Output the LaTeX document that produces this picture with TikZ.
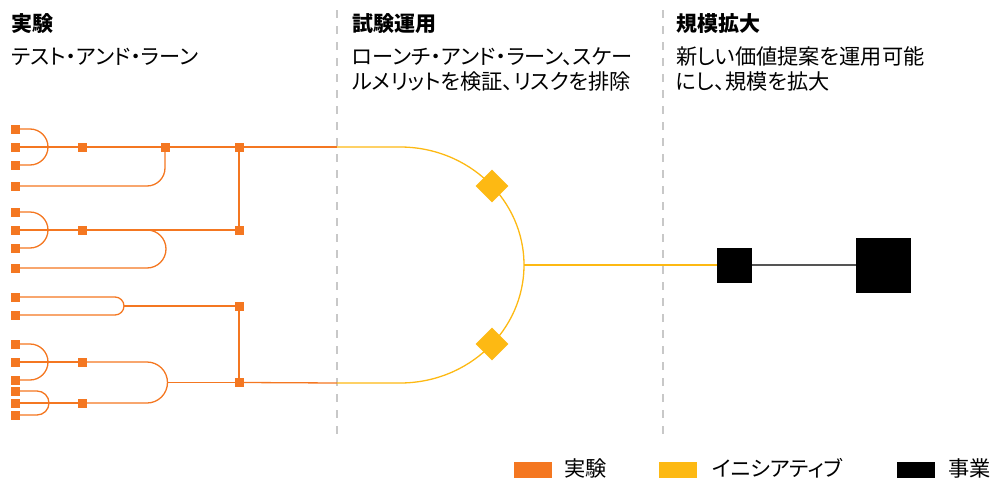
\documentclass[tikz,border=0pt]{standalone}
\usepackage{fontspec}
\usetikzlibrary{shapes.geometric}
\newfontfamily\jp[RawFeature={+palt}]{Noto Sans CJK JP}
\definecolor{cOrange}{HTML}{F47721}
\definecolor{cYellow}{HTML}{FDB913}
\definecolor{cDash}{HTML}{C8C8C8}
\definecolor{cLink}{HTML}{555555}
\tikzset{
  osq/.style={rectangle,fill=cOrange,minimum size=9pt,inner sep=0pt,outer sep=0pt},
  ydia/.style={diamond,fill=cYellow,minimum width=33pt,minimum height=33pt,inner sep=0pt},
  bsq/.style={rectangle,fill=black,inner sep=0pt,outer sep=0pt},
  oline/.style={draw=cOrange,line width=1.3pt},
  yline/.style={draw=cYellow,line width=1.3pt},
  divider/.style={draw=cDash,line width=1.6pt,dash pattern=on 8pt off 8pt},
  ttl/.style={anchor=base west,inner sep=0pt,font=\jp\bfseries\fontsize{21}{24}\selectfont},
  sub/.style={anchor=base west,inner sep=0pt,font=\jp\fontsize{21.2}{24}\selectfont},
  leg/.style={anchor=base west,inner sep=0pt,font=\jp\fontsize{21.2}{24}\selectfont},
  legbox/.style={rectangle,minimum width=38pt,minimum height=16pt,inner sep=0pt}
}
\begin{document}
\begin{tikzpicture}[x=1pt,y=-1pt]
\useasboundingbox (0,0) rectangle (991,479);
% dividers
\coordinate (d1t) at (337,10); \coordinate (d1b) at (337,438);
\coordinate (d2t) at (663,10); \coordinate (d2b) at (663,438);
\draw[divider] (d1t) -- (d1b);
\draw[divider] (d2t) -- (d2b);
% headers
\node[ttl] (t1) at (11,31) {実験};
\node[sub] (s1) at (11,64.5) {テスト・アンド・ラーン};
\node[ttl] (t2) at (352,31) {試験運用};
\node[sub] (s2a) at (352,64.5) {ローンチ・アンド・ラーン、スケー};
\node[sub] (s2b) at (352,89) {ルメリットを検証、リスクを排除};
\node[ttl] (t3) at (676,31) {規模拡大};
\node[sub] (s3a) at (676,64.5) {新しい価値提案を運用可能};
\node[sub] (s3b) at (676,89) {にし、規模を拡大};
% leaf squares
\foreach \n/\y in {a1/129,a2/147,a3/165,a4/186,b1/212,b2/230,b3/248,b4/268,c1/297,c2/315,d1/344,d2/362,d3/380,d4/391,d5/403,d6/415}
  \node[osq] (\n) at (15.5,\y) {};
% internal squares
\node[osq] (m1) at (82,147) {};
\node[osq] (m2) at (82,230) {};
\node[osq] (m3) at (82,362) {};
\node[osq] (m4) at (82,403) {};
\node[osq] (n1) at (165,147) {};
\node[osq] (r1) at (239,147) {};
\node[osq] (r2) at (239,230) {};
\node[osq] (r3) at (239,306) {};
\node[osq] (r4) at (239,382.5) {};
\coordinate (c0) at (124,306);
% group 1
\draw[oline] (a1.east) -- (30,129) arc[start angle=90,end angle=-90,radius=18pt] -- (a3.east);
\draw[oline] (a2.east) -- (m1.west);
\draw[oline] (m1.east) -- (n1.west);
\draw[oline] (n1.east) -- (r1.west);
\draw[oline,rounded corners=18pt] (a4.east) -| (n1.south);
% group 2
\draw[oline] (b1.east) -- (30,212) arc[start angle=90,end angle=-90,radius=18pt] -- (b3.east);
\draw[oline] (b2.east) -- (m2.west);
\draw[oline] (m2.east) -- (r2.west);
\draw[oline] (b4.east) -- (147,268) arc[start angle=-90,end angle=90,radius=19pt];
\draw[oline] (r1.south) -- (r2.north);
% group 3
\draw[oline] (c1.east) -- (115,297) arc[start angle=90,end angle=-90,radius=9pt] -- (c2.east);
\draw[oline] (c0) -- (r3.west);
% group 4
\draw[oline] (d1.east) -- (30,344) arc[start angle=90,end angle=-90,radius=18pt] -- (d3.east);
\draw[oline] (d2.east) -- (m3.west);
\draw[oline] (d4.east) -- (37,391) arc[start angle=90,end angle=-90,radius=12pt] -- (d6.east);
\draw[oline] (d5.east) -- (m4.west);
\draw[oline] (m3.east) -- (147,362) arc[start angle=90,end angle=-90,radius=20.5pt] -- (m4.east);
\coordinate (c4) at (167.5,382.5);
\draw[oline] (c4) -- (r4.west);
\draw[oline] (r3.south) -- (r4.north);
% initiative
\coordinate (x1) at (337,147);
\coordinate (x2) at (337,383);
\coordinate (j) at (524,265);
\draw[oline] (r1.east) -- (x1);
\draw[oline] (r4.east) -- (x2);
\draw[yline] (x1) -- (400,147) arc[start angle=90,end angle=-90,x radius=124pt,y radius=118pt] -- (x2);
\node[ydia] (i1) at (492,186) {};
\node[ydia] (i2) at (492,344) {};
% business
\node[bsq,minimum size=35pt] (b1s) at (734.5,265) {};
\node[bsq,minimum size=55pt] (b2s) at (883.5,265) {};
\draw[yline] (j) -- (b1s.west);
\draw[draw=cLink,line width=1.5pt] (b1s.east) -- (b2s.west);
% legend
\node[legbox,fill=cOrange] (l1) at (533,470) {};
\node[leg] (l1t) at (564,476.5) {実験};
\node[legbox,fill=cYellow] (l2) at (678,470) {};
\node[leg] (l2t) at (712,476.5) {イニシアティブ};
\node[legbox,fill=black] (l3) at (916,470) {};
\node[leg] (l3t) at (948,476.5) {事業};
\end{tikzpicture}
\end{document}
